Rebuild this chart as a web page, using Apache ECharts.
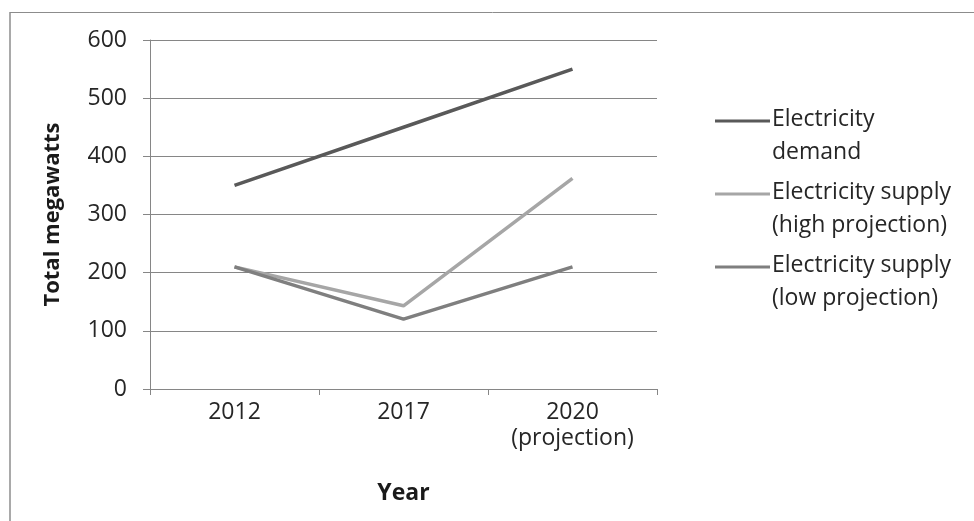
<!DOCTYPE html>
<html><head><meta charset="utf-8">
<script src="https://cdn.jsdelivr.net/npm/echarts@6/dist/echarts.min.js"></script>
<style>html,body{margin:0;padding:0;background:#fff}#c{width:974px;height:521px}</style>
</head><body><div id="c"></div>
<script>
const categories = ['2012', '2017', '2020\n(projection)'];
const seriesNames = ['Electricity\ndemand', 'Electricity supply\n(high projection)', 'Electricity supply\n(low projection)'];
const demand = [350, 450, 550];
const supplyHigh = [210, 143, 362];
const supplyLow = [210, 120, 210];
const colors = ['#595959', '#a6a6a6', '#7f7f7f'];

const FONT = 'Open Sans';
const chart = echarts.init(document.getElementById('c'));
const iconPath = 'path://M0 0 L55 0 L55 3 L0 3 Z M0 33 L0.01 33 L0.01 33.01 L0 33.01 Z';
chart.setOption({
  animation: false,
  backgroundColor: '#fff',
  graphic: [
    {type: 'line', shape: {x1: 10, y1: 12.5, x2: 980, y2: 12.5}, style: {stroke: '#8c8c8c', lineWidth: 1}},
    {type: 'line', shape: {x1: 10, y1: 12, x2: 10, y2: 530}, style: {stroke: '#8c8c8c', lineWidth: 1.5}}
  ],
  grid: {left: 150, right: 317, top: 40, bottom: 132, containLabel: false},
  legend: {
    orient: 'vertical', left: 710, top: 98,
    itemWidth: 55, itemHeight: 36, itemGap: 7,
    icon: iconPath,
    itemStyle: {borderWidth: 0},
    textStyle: {fontFamily: FONT, fontSize: 23, color: '#262626', lineHeight: 33, padding: [0, 0, 0, -3]},
    data: seriesNames
  },
  xAxis: {
    type: 'category', data: categories, boundaryGap: true,
    name: 'Year', nameLocation: 'middle', nameGap: 93,
    nameTextStyle: {fontFamily: FONT, fontSize: 23, fontWeight: 'bold', color: '#1a1a1a'},
    axisLine: {lineStyle: {color: '#868686', width: 1}},
    axisTick: {show: true, length: 6, lineStyle: {color: '#868686'}},
    axisLabel: {fontFamily: FONT, fontSize: 23, color: '#262626', margin: 10, lineHeight: 26},
    splitLine: {show: false}
  },
  yAxis: {
    type: 'value', min: 0, max: 600, interval: 100,
    name: 'Total megawatts', nameLocation: 'middle', nameGap: 86, nameRotate: 90,
    nameTextStyle: {fontFamily: FONT, fontSize: 22, fontWeight: 'bold', color: '#1a1a1a'},
    axisLine: {show: true, lineStyle: {color: '#868686', width: 1}},
    axisTick: {show: true, length: 7, lineStyle: {color: '#868686'}},
    axisLabel: {fontFamily: FONT, fontSize: 23, color: '#262626', margin: 23},
    splitLine: {show: true, lineStyle: {color: '#868686', width: 1}}
  },
  series: [
    {name: seriesNames[0], type: 'line', data: demand, symbol: 'none', color: colors[0], lineStyle: {width: 3.5, color: colors[0]}},
    {name: seriesNames[1], type: 'line', data: supplyHigh, symbol: 'none', color: colors[1], lineStyle: {width: 3.5, color: colors[1]}},
    {name: seriesNames[2], type: 'line', data: supplyLow, symbol: 'none', color: colors[2], lineStyle: {width: 3.5, color: colors[2]}}
  ]
});
</script></body></html>
